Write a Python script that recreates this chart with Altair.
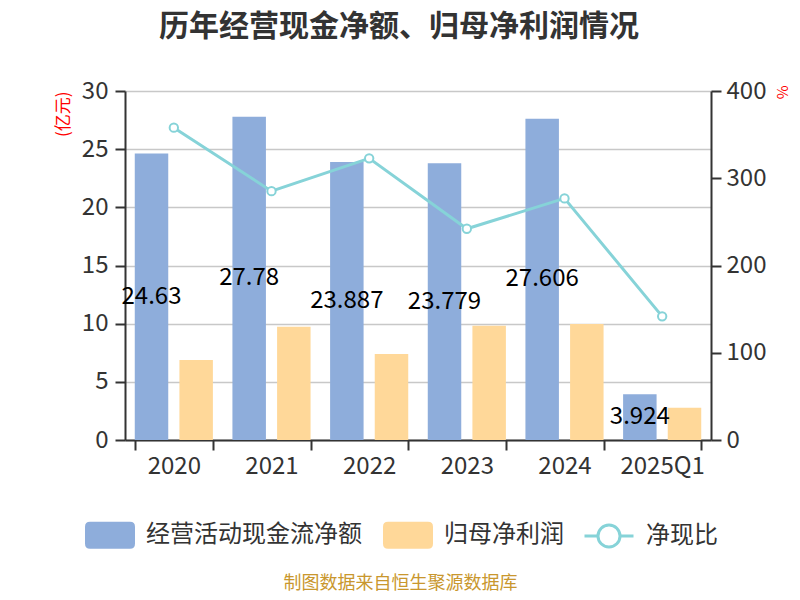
import altair as alt
import pandas as pd

years = ["2020", "2021", "2022", "2023", "2024", "2025Q1"]
cash_flow = [24.63, 27.78, 23.887, 23.779, 27.606, 3.924]
cash_labels = ["24.63", "27.78", "23.887", "23.779", "27.606", "3.924"]
net_profit = [6.88, 9.74, 7.40, 9.82, 9.97, 2.77]
cash_ratio = [358.0, 285.2, 322.8, 242.1, 276.9, 141.7]

S1 = "经营活动现金流净额"
S2 = "归母净利润"
S3 = "净现比"

BLUE = "#8eaddb"
ORANGE = "#ffd899"
TEAL = "#86d3d8"
DARK = "#333333"
FONT = "Noto Sans CJK SC"

bars_df = pd.DataFrame({
    "year": years * 2,
    "series": [S1] * len(years) + [S2] * len(years),
    "value": cash_flow + net_profit,
})
lab_df = pd.DataFrame({"year": years, "series": [S1] * len(years),
                       "value": cash_flow, "label": cash_labels})
line_df = pd.DataFrame({"year": years, "kind": [S3] * len(years), "ratio": cash_ratio})

rrect = ("M-0.8,-0.54 L0.8,-0.54 Q1,-0.54 1,-0.34 L1,0.34 Q1,0.54 0.8,0.54 "
         "L-0.8,0.54 Q-1,0.54 -1,0.34 L-1,-0.34 Q-1,-0.54 -0.8,-0.54 Z")
linesym = ("M-1,0 L-0.45,0 M0.45,0 L1,0 M0.45,0 A0.45,0.45 0 1,1 -0.45,0 "
           "A0.45,0.45 0 1,1 0.45,0")

x_axis = alt.Axis(
    title="制图数据来自恒生聚源数据库", tickBand="extent", labelAngle=0,
    labelFontSize=24, labelColor=DARK, labelPadding=4, tickSize=10,
    tickColor=DARK, tickWidth=2, domainColor=DARK, domainWidth=2,
    titleFontSize=18, titleColor="#c9972e", titleFontWeight="normal",
    titleX=275, titleY=143, titleBaseline="middle", titleAlign="center",
)
x_enc = alt.X("year:N", sort=years,
              scale=alt.Scale(paddingInner=0.2, paddingOuter=0.1), axis=x_axis)
xoff = alt.XOffset("series:N", sort=[S1, S2],
                   scale=alt.Scale(domain=[S1, S2], paddingInner=0.25, paddingOuter=0))

y_left_axis = alt.Axis(
    title="(亿元)", values=[0, 5, 10, 15, 20, 25, 30], grid=True,
    gridColor="#c8c8c8", gridWidth=1.5, labelFontSize=24, labelColor=DARK,
    labelPadding=7, tickSize=10, tickColor=DARK, tickWidth=2,
    domainColor=DARK, domainWidth=2, titleColor="#ff0000", titleFontSize=17,
    titleFontWeight="normal", titleX=-62, titleY=0, titleAlign="right",
    titleBaseline="middle", titleAngle=270,
)
y_left_scale = alt.Scale(domain=[0, 30])

y_right_axis = alt.Axis(
    orient="right", title="%", values=[0, 100, 200, 300, 400], grid=False,
    labelFontSize=24, labelColor=DARK, labelPadding=5, tickSize=10,
    tickColor=DARK, tickWidth=2, domainColor=DARK, domainWidth=2,
    titleColor="#ff0000", titleFontSize=15, titleFontWeight="normal",
    titleX=70, titleY=-6, titleAlign="left", titleBaseline="middle", titleAngle=90,
)
y_right_scale = alt.Scale(domain=[0, 400])

bars = alt.Chart(bars_df).mark_bar().encode(
    x=x_enc,
    xOffset=xoff,
    y=alt.Y("value:Q", scale=y_left_scale, axis=y_left_axis),
    color=alt.Color("series:N", sort=[S1, S2],
                    scale=alt.Scale(domain=[S1, S2], range=[BLUE, ORANGE]),
                    legend=alt.Legend(
                        orient="none", legendX=-40, legendY=419, direction="horizontal",
                        columns=2, title=None, symbolType=rrect, symbolSize=2500,
                        symbolStrokeWidth=0, labelFontSize=24, labelColor=DARK,
                        labelOffset=11, columnPadding=21, labelLimit=0, labelFont=FONT)),
)

labels = alt.Chart(lab_df).transform_calculate(
    half="datum.value / 2"
).mark_text(fontSize=24, font=FONT, color="black", baseline="middle", align="center").encode(
    x=x_enc,
    xOffset=xoff,
    y=alt.Y("half:Q", scale=y_left_scale, axis=y_left_axis),
    text="label:N",
)

line = alt.Chart(line_df).mark_line(strokeWidth=3).encode(
    x=x_enc,
    y=alt.Y("ratio:Q", scale=y_right_scale, axis=y_right_axis),
    stroke=alt.Stroke("kind:N", scale=alt.Scale(domain=[S3], range=[TEAL]),
                      legend=alt.Legend(
                          orient="none", legendX=458, legendY=419, title=None,
                          symbolType=linesym, symbolSize=2401, symbolStrokeWidth=3,
                          symbolFillColor="white", labelFontSize=24, labelColor=DARK,
                          labelOffset=11, labelLimit=0, labelFont=FONT)),
)

points = alt.Chart(line_df).mark_point(
    filled=True, fill="white", stroke=TEAL, strokeWidth=2, size=70, opacity=1
).encode(
    x=x_enc,
    y=alt.Y("ratio:Q", scale=y_right_scale, axis=y_right_axis),
)

left = alt.layer(bars, labels)
right = alt.layer(line, points)

chart = alt.layer(left, right).resolve_scale(y="independent").properties(
    width=586, height=349,
    padding={"left": 117, "top": 83, "right": 81, "bottom": 152},
    autosize=alt.AutoSizeParams(type="none"),
    title=alt.TitleParams(
        text="历年经营现金净额、归母净利润情况", fontSize=30, fontWeight="bold",
        color=DARK, anchor="middle", frame="group", dx=-19, offset=37, font=FONT),
).configure(font=FONT).configure_view(stroke=None).configure_axis(
    labelFont=FONT, titleFont=FONT)

chart.save("out.html", embed_options={"renderer": "svg", "actions": False})
